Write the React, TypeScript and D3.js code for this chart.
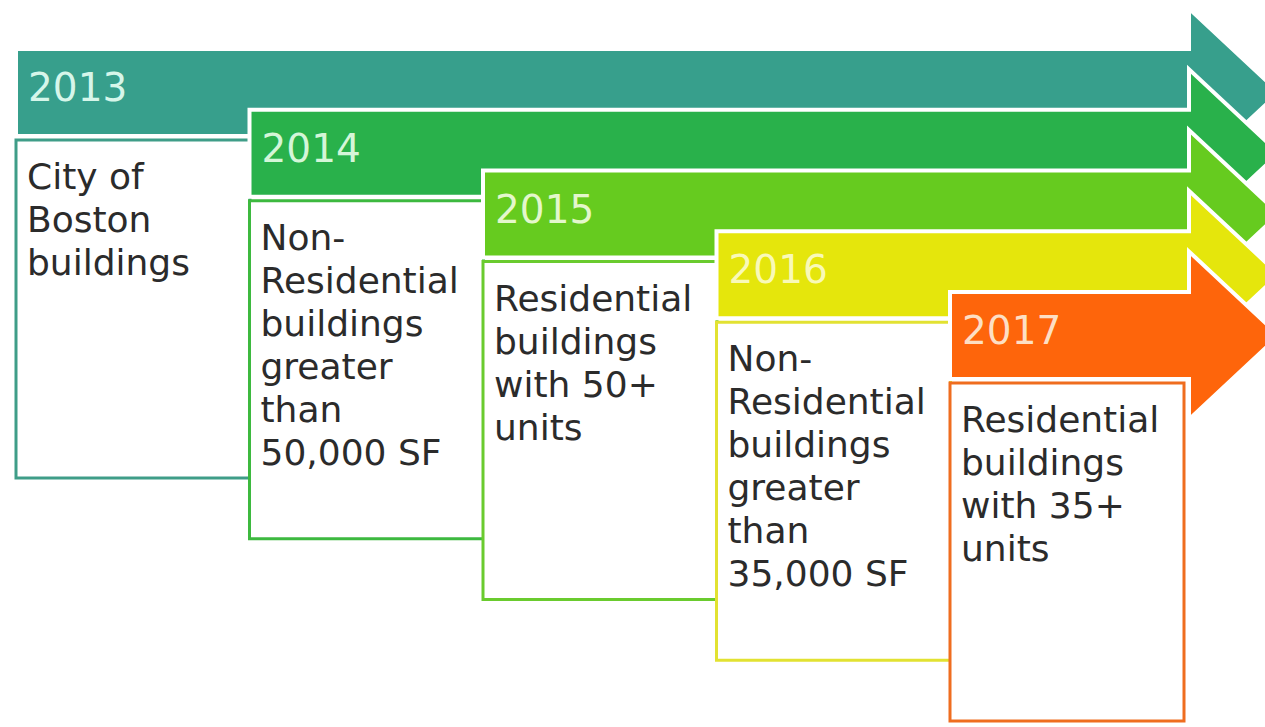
import * as React from 'react';
import * as d3 from 'd3';

const years = ['2013', '2014', '2015', '2016', '2017'];
const descriptions = [
  ['City of', 'Boston', 'buildings'],
  ['Non-', 'Residential', 'buildings', 'greater', 'than', '50,000 SF'],
  ['Residential', 'buildings', 'with 50+', 'units'],
  ['Non-', 'Residential', 'buildings', 'greater', 'than', '35,000 SF'],
  ['Residential', 'buildings', 'with 35+', 'units'],
];
const bandColors = ['#379f8c', '#29b14b', '#66cb1f', '#e5e60c', '#fe650b'];
const boxColors = ['#3f9d88', '#3db93f', '#6acb2e', '#e2e232', '#ef6d1f'];
const yearColors = ['#d6f6ea', '#d4f6d8', '#e4f7cc', '#f9f9b8', '#fddfc4'];

const W = 1265, H = 727;
const bandH = 87;
const bandEnd = 1189;
const headHalf = 84;
const headTip = 1279;
const boxW = 234;
const boxH = 338;
const lineH = 43;

export default function App() {
  const x = d3.scaleLinear().domain([0, years.length - 1]).range([16, 950]);
  const y = d3.scaleLinear().domain([0, years.length - 1]).range([49, 292]);

  // band + arrow head as one outline, white edge makes the chevron gaps
  const arrowPath = (i: number) => {
    const p = d3.path();
    const x0 = x(i), y0 = y(i), cy = y0 + bandH / 2;
    p.moveTo(x0, y0);
    p.lineTo(bandEnd, y0);
    p.lineTo(bandEnd, cy - headHalf);
    p.lineTo(headTip, cy);
    p.lineTo(bandEnd, cy + headHalf);
    p.lineTo(bandEnd, y0 + bandH);
    p.lineTo(x0, y0 + bandH);
    p.closePath();
    return p.toString();
  };

  return (
    <svg width={W} height={H} style={{ position: 'absolute', left: 0, top: 0, background: '#fff' }}
      fontFamily="'DejaVu Sans', sans-serif">
      {years.map((yr, i) => {
        const bx = x(i), by = y(i) + bandH + 4;
        return (
          <g key={yr}>
            <path d={arrowPath(i)} fill={bandColors[i]} stroke="#fff" strokeWidth={4} strokeLinejoin="miter" />
            <text x={x(i) + 12} y={y(i) + 52} fontSize={39} fill={yearColors[i]}>{yr}</text>
            <rect x={bx} y={by} width={boxW} height={boxH} fill="#fff" stroke={boxColors[i]} strokeWidth={3} />
            {descriptions[i].map((line, j) => (
              <text key={j} x={bx + 11} y={by + 49 + j * lineH} fontSize={36} fill="#2b2b2b">{line}</text>
            ))}
          </g>
        );
      })}
    </svg>
  );
}
